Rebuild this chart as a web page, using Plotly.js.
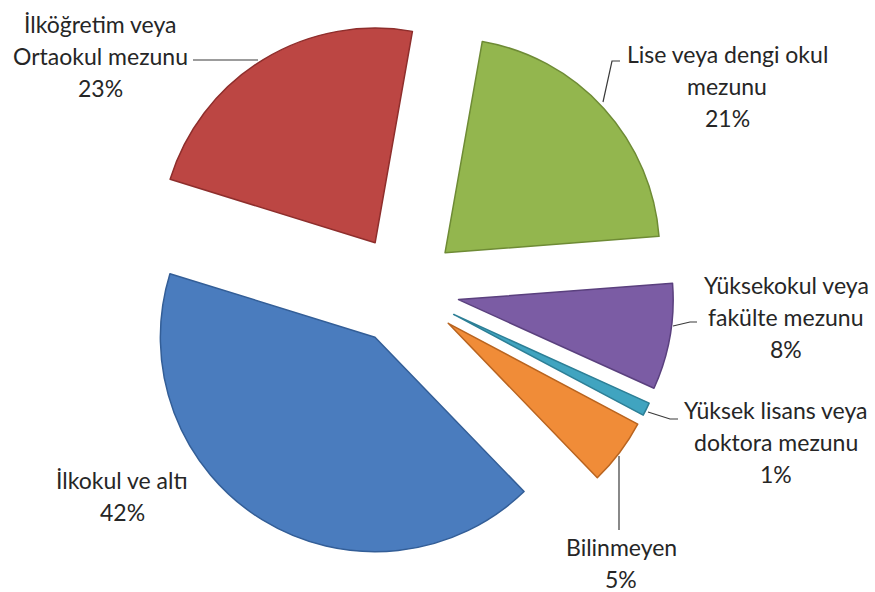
<!DOCTYPE html>
<html>
<head>
<meta charset="utf-8">
<script src="https://cdn.plot.ly/plotly-3.0.1.min.js"></script>
<style>html,body{margin:0;padding:0;background:#fff;}#chart{width:875px;height:592px;}</style>
</head>
<body>
<div id="chart"></div>
<script>
// ---- data ----
const labels = ['Lise veya dengi okul mezunu', 'Yüksekokul veya fakülte mezunu', 'Yüksek lisans veya doktora mezunu', 'Bilinmeyen', 'İlkokul ve altı', 'İlköğretim veya Ortaokul mezunu'];
const values = [21, 8, 1, 5, 42, 23];
const labelLines = [['Lise veya dengi okul', 'mezunu'], ['Yüksekokul veya', 'fakülte mezunu'], ['Yüksek lisans veya', 'doktora mezunu'], ['Bilinmeyen'], ['İlkokul ve altı'], ['İlköğretim veya', 'Ortaokul mezunu']];

// ---- styles / layout positions ----
const colors = ['#93B64E', '#7B5CA4', '#40A4C0', '#F08C38', '#4A7CBE', '#BC4643'];
const edgeColors = ['#6E8B35', '#5A407E', '#2D7F96', '#B9641F', '#335E97', '#8E2E2C'];
const M = {l: 134, r: 201, t: 20, b: 32};
const W = 875, H = 592;
const PW = W - M.l - M.r, PH = H - M.t - M.b;
const fx = x => (x - M.l) / PW;
const fy = y => 1 - (y - M.t) / PH;
// label block centres (pixel) and first line y, line step
const labelPos = [
  {x: 727, y: 54}, {x: 786, y: 285}, {x: 776, y: 410},
  {x: 621, y: 547}, {x: 122, y: 480}, {x: 100, y: 24}
];
const lineStep = 32;
const leaders = [
  [[620, 61], [612, 61], [603, 102]],
  [[697, 322], [690, 322], [673, 326]],
  [[678, 419], [670, 419], [648, 412]],
  [[619, 530], [619, 456]],
  null,
  [[193, 60], [258, 60]]
];

const annotations = [];
labels.forEach((lab, i) => {
  const lines = labelLines[i].concat([values[i] + '%']);
  lines.forEach((t, k) => {
    annotations.push({
      xref: 'paper', yref: 'paper', x: fx(labelPos[i].x), y: fy(labelPos[i].y + k * lineStep),
      text: t, showarrow: false, xanchor: 'center', yanchor: 'middle',
      font: {family: 'Lato, "Open Sans", sans-serif', size: 23, color: '#262626'}
    });
  });
});
const shapes = [];
leaders.forEach(pts => {
  if (!pts) return;
  const d = pts.map((p, k) => (k ? 'L ' : 'M ') + fx(p[0]) + ' ' + fy(p[1])).join(' ');
  shapes.push({type: 'path', xref: 'paper', yref: 'paper', path: d, line: {color: '#3a3a3a', width: 1.2}});
});

const trace = {
  type: 'pie',
  labels: labels,
  values: values,
  sort: false,
  direction: 'clockwise',
  rotation: 10,
  pull: values.map(() => 0.258),
  textinfo: 'none',
  hoverinfo: 'label+percent',
  marker: {colors: colors, line: {color: edgeColors, width: 1.5}}
};

Plotly.newPlot('chart', [trace], {
  width: W, height: H,
  margin: M,
  showlegend: false,
  paper_bgcolor: '#ffffff',
  annotations: annotations,
  shapes: shapes
}, {displayModeBar: false, staticPlot: true});
</script>
</body>
</html>
